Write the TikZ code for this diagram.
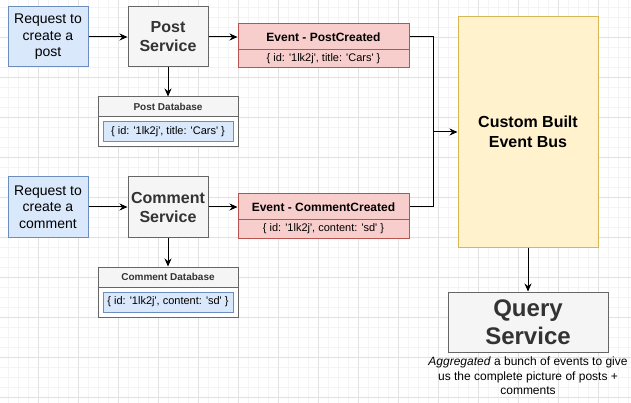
\documentclass[tikz,border=0pt]{standalone}
\usepackage{fontspec}
\setmainfont{Liberation Sans}
\usetikzlibrary{arrows.meta}

\definecolor{reqfill}{HTML}{DAE8FC}
\definecolor{reqline}{HTML}{6C8EBF}
\definecolor{svcfill}{HTML}{F5F5F5}
\definecolor{svcline}{HTML}{666666}
\definecolor{svctext}{HTML}{333333}
\definecolor{evfill}{HTML}{F8CECC}
\definecolor{evline}{HTML}{B85450}
\definecolor{busfill}{HTML}{FFF2CC}
\definecolor{busline}{HTML}{D6B656}
\definecolor{majorgrid}{HTML}{E2E2E2}
\definecolor{minorgrid}{HTML}{F4F4F4}

\newcommand{\sq}{\textquotesingle}

\begin{document}
\begin{tikzpicture}[x=1pt,y=-1pt,line width=1pt]
  \tikzstyle{box}=[rectangle,inner sep=0pt,align=center]
  \tikzstyle{request}=[box,draw=reqline,fill=reqfill,minimum width=80pt,minimum height=60pt,font=\fontsize{14}{16.5}\selectfont]
  \tikzstyle{service}=[box,draw=svcline,fill=svcfill,text=svctext,minimum width=80pt,minimum height=60pt,font=\bfseries\fontsize{16}{19}\selectfont]
  \tikzstyle{dbhead}=[box,draw=svcline,fill=svcfill,text=svctext,minimum width=140pt,minimum height=20pt,font=\bfseries\fontsize{10}{12}\selectfont]
  \tikzstyle{dbbody}=[box,draw=svcline,fill=white,minimum width=140pt,minimum height=30pt]
  \tikzstyle{record}=[box,draw=reqline,fill=reqfill,minimum width=130pt,minimum height=20pt,font=\fontsize{11}{13}\selectfont]
  \tikzstyle{evhead}=[box,draw=evline,fill=evfill,minimum width=171pt,minimum height=26pt,font=\bfseries\fontsize{12}{14}\selectfont]
  \tikzstyle{evbody}=[box,draw=evline,fill=evfill,minimum width=171pt,minimum height=18pt,font=\fontsize{11}{13}\selectfont]
  \tikzstyle{flow}=[-{Stealth[length=8pt,width=7pt]}]

  \useasboundingbox (0,0) rectangle (631,403);
  \fill[white] (0,0) rectangle (631,403);
  % background grid
  \foreach \x in {8,18,...,628} \draw[minorgrid,line width=0.6pt] (\x,0) -- (\x,403);
  \foreach \y in {7,17,...,397} \draw[minorgrid,line width=0.6pt] (0,\y) -- (631,\y);
  \foreach \x in {38,78,...,598} \draw[majorgrid,line width=0.8pt] (\x,0) -- (\x,403);
  \foreach \y in {37,77,...,397} \draw[majorgrid,line width=0.8pt] (0,\y) -- (631,\y);

  % post side
  \node[request] (reqpost) at (48,37) {Request to\\create a\\post};
  \node[service] (post) at (168,37) {Post\\Service};
  \node[dbhead] (postdb) at (168,107) {Post Database};
  \node[dbbody] (postdbbody) at (168,132) {};
  \node[record] (postrec) at (168,132) {\{ id: \sq1lk2j\sq, title: \sq Cars\sq\ \}};
  \node[evhead] (postev) at (323.5,37) {Event - PostCreated};
  \node[evbody] (postevbody) at (323.5,59) {\{ id: \sq1lk2j\sq, title: \sq Cars\sq\ \}};

  % comment side
  \node[request] (reqcomment) at (48,207) {Request to\\create a\\comment};
  \node[service] (comment) at (168,207) {Comment\\Service};
  \node[dbhead] (commentdb) at (168,277) {Comment Database};
  \node[dbbody] (commentdbbody) at (168,302) {};
  \node[record] (commentrec) at (168,302) {\{ id: \sq1lk2j\sq, content: \sq sd\sq\ \}};
  \node[evhead] (commentev) at (323.5,207) {Event - CommentCreated};
  \node[evbody] (commentevbody) at (323.5,229) {\{ id: \sq1lk2j\sq, content: \sq sd\sq\ \}};

  % bus and query
  \node[box,draw=busline,fill=busfill,minimum width=140pt,minimum height=230pt,font=\bfseries\fontsize{16}{20}\selectfont] (bus) at (528,132) {Custom Built\\Event Bus};
  \node[service,minimum width=160pt,font=\bfseries\fontsize{24}{28}\selectfont] (query) at (528,322) {Query\\Service};
  \node[box,font=\fontsize{12}{14.5}\selectfont] (caption) at (528,376) {\textit{Aggregated} a bunch of events to give\\us the complete picture of posts +\\comments};
  \coordinate (join) at (433,132);

  \draw[flow] (reqpost) -- (post);
  \draw[flow] (post) -- (postdb);
  \draw[flow] (post) -- (postev);
  \draw[flow] (reqcomment) -- (comment);
  \draw[flow] (comment) -- (commentdb);
  \draw[flow] (comment) -- (commentev);
  \draw (postev.east) -| (join); % top event to bus
  \draw (commentev.east) -| (join); % bottom event to bus
  \draw[flow] (join) -- (bus.west);
  \draw[flow] (bus) -- (query);
\end{tikzpicture}
\end{document}
